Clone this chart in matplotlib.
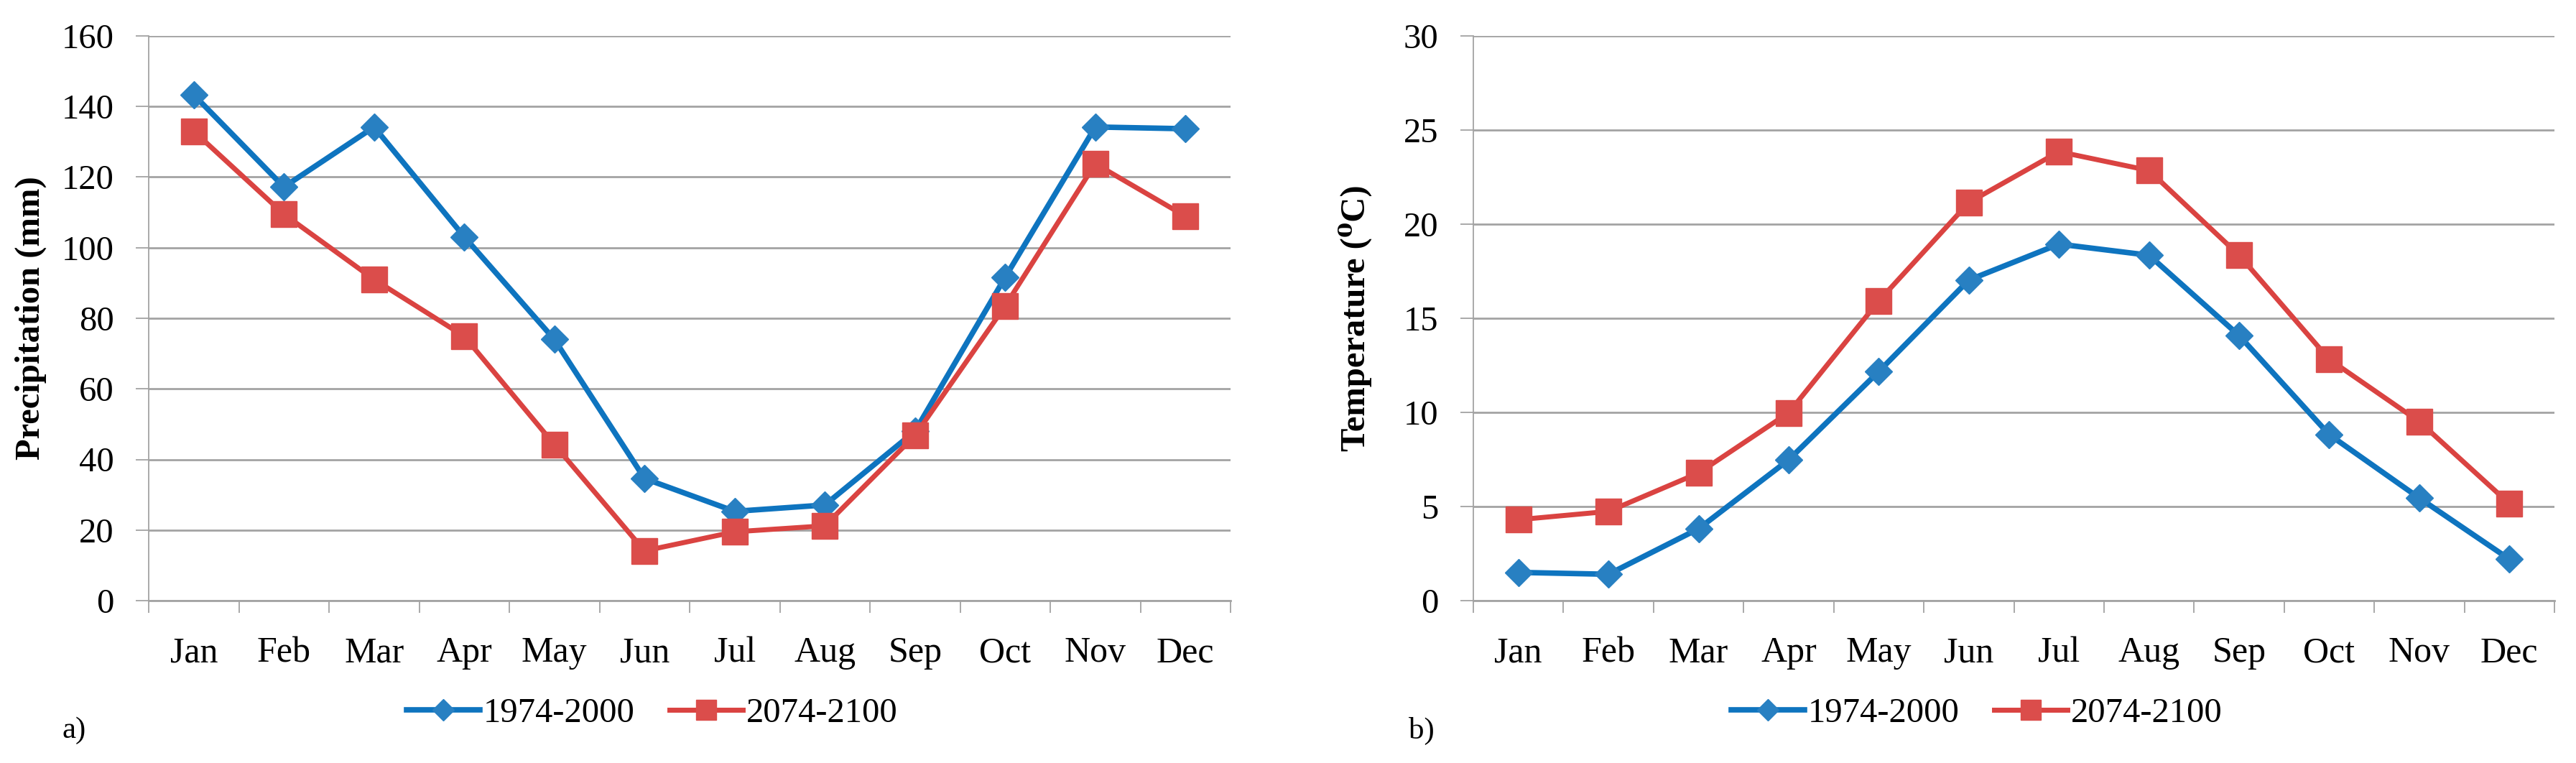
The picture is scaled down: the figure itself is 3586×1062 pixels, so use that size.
import matplotlib
matplotlib.use("Agg")
import matplotlib.pyplot as plt
import numpy as np

months = ["Jan", "Feb", "Mar", "Apr", "May", "Jun", "Jul", "Aug", "Sep", "Oct", "Nov", "Dec"]
series_names = ["1974-2000", "2074-2100"]

precip_1974_2000 = [143.3, 117.2, 134.2, 103.1, 74.0, 34.6, 25.3, 27.1, 48.0, 91.6, 134.2, 133.7]
precip_2074_2100 = [133.0, 109.5, 91.0, 74.9, 44.2, 14.1, 19.5, 21.2, 46.8, 83.5, 123.8, 108.9]

temp_1974_2000 = [1.50, 1.40, 3.82, 7.48, 12.17, 17.03, 18.94, 18.35, 14.08, 8.82, 5.45, 2.20]
temp_2074_2100 = [4.30, 4.74, 6.78, 9.98, 15.92, 21.15, 23.85, 22.85, 18.35, 12.82, 9.51, 5.15]

precip_ticks = [0, 20, 40, 60, 80, 100, 120, 140, 160]
temp_ticks = [0, 5, 10, 15, 20, 25, 30]

FONT = ["Liberation Serif", "DejaVu Serif"]
plt.rcParams["font.family"] = FONT

BLUE_LINE = "#0E74BF"
BLUE_MK = "#2880C2"
RED_LINE = "#DA4341"
RED_MK = "#DB4D4B"
GRID = "#A3A3A3"

W, H = 3586, 1062
DPI = 100
fig = plt.figure(figsize=(W / DPI, H / DPI), dpi=DPI)

def px_x(v):
    return v / W

def px_y(v):
    return 1 - v / H

ax_bottom = px_y(836)
ax_h = px_y(50) - px_y(836)
ax1 = fig.add_axes([px_x(207), ax_bottom, px_x(1713) - px_x(207), ax_h])
ax2 = fig.add_axes([px_x(2051), ax_bottom, px_x(3556) - px_x(2051), ax_h])

FS = 35

def style(ax, yvals, ticks):
    x = np.arange(1, 13)
    l1, = ax.plot(x, yvals[0], color=BLUE_LINE, lw=5.5, marker="D", ms=19,
                  mfc=BLUE_MK, mec=BLUE_MK, zorder=3, solid_joinstyle="round")
    l2, = ax.plot(x, yvals[1], color=RED_LINE, lw=5.0, marker="s", ms=26,
                  mfc=RED_MK, mec=RED_MK, zorder=4, solid_joinstyle="round")
    ax.set_xlim(0.5, 12.5)
    ax.set_ylim(ticks[0], ticks[-1])
    ax.set_yticks(ticks)
    ax.set_yticklabels([str(t) for t in ticks], fontsize=FS)
    ax.set_xticks(x)
    ax.set_xticklabels(months, fontsize=FS + 1)
    ax.set_xticks(np.arange(0.5, 13, 1), minor=True)
    ax.tick_params(axis="x", which="major", length=0, pad=36)
    ax.tick_params(axis="x", which="minor", length=12, width=1.3, color=GRID, direction="out")
    ax.tick_params(axis="y", which="major", length=13, width=1.3, color=GRID, direction="out", pad=22)
    ax.yaxis.grid(True, color=GRID, lw=2.0)
    ax.set_axisbelow(True)
    for s in ["top", "right"]:
        ax.spines[s].set_visible(False)
    ax.spines["left"].set_color(GRID)
    ax.spines["left"].set_linewidth(1.3)
    ax.spines["bottom"].set_color(GRID)
    ax.spines["bottom"].set_linewidth(2.0)
    return l1, l2

h1 = style(ax1, [precip_1974_2000, precip_2074_2100], precip_ticks)
h2 = style(ax2, [temp_1974_2000, temp_2074_2100], temp_ticks)

fig.text(px_x(43), px_y(443), "Precipitation (mm)", rotation=90, ha="center", va="center",
         fontsize=FS, fontweight="bold")
fig.text(px_x(1886), px_y(443), "Temperature (⁰C)", rotation=90, ha="center", va="center",
         fontsize=FS, fontweight="bold")

for handles, cx in [(h1, 908), (h2, 2752)]:
    fig.legend(handles, series_names, loc="center", bbox_to_anchor=(px_x(cx), px_y(993)),
               ncol=2, frameon=False, fontsize=FS, handlelength=2.1, handletextpad=0.1,
               columnspacing=1.0, markerscale=0.8)

fig.text(px_x(103), px_y(1017), "a)", ha="center", va="center", fontsize=FS - 4)
fig.text(px_x(1979), px_y(1017), "b)", ha="center", va="center", fontsize=FS - 4)

fig.savefig("out.png", dpi=DPI, facecolor="white")
